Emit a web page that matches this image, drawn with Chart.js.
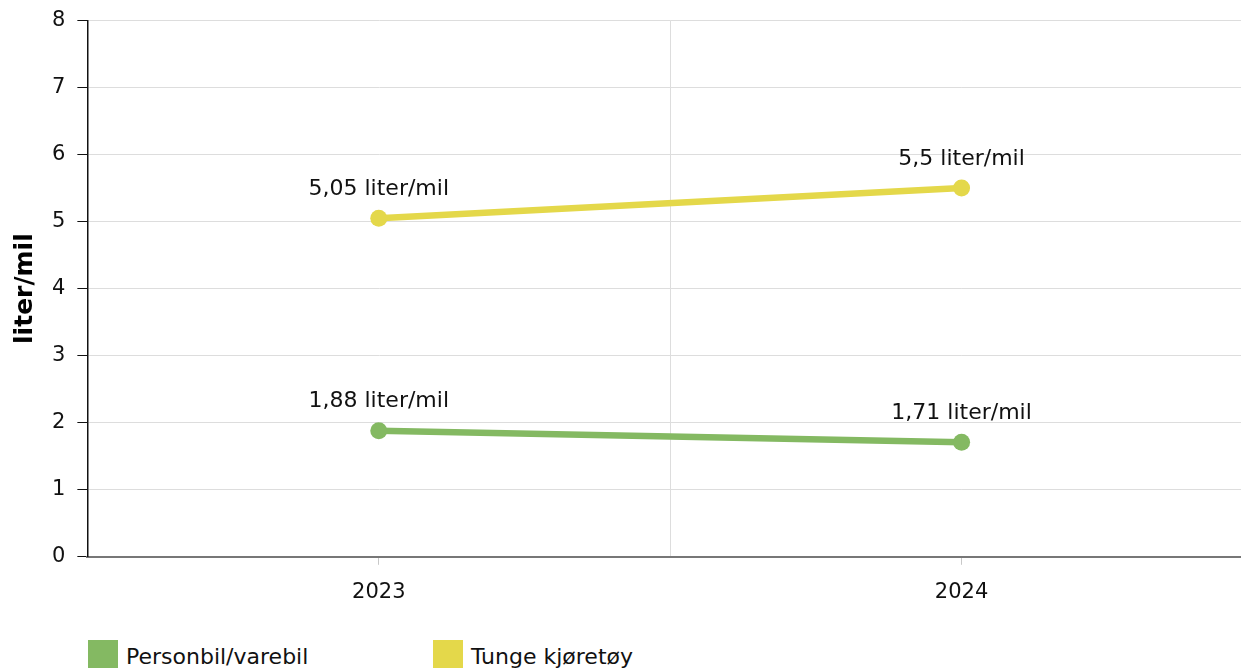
<!DOCTYPE html>
<html>
<head>
<meta charset="utf-8">
<script src="https://cdn.jsdelivr.net/npm/chart.js@4/dist/chart.umd.min.js"></script>
<style>
  html, body { margin: 0; padding: 0; background: #fff; overflow: hidden; width: 1241px; height: 668px; }
  #c { position: absolute; left: 0; top: 0; }
  .legend { position: absolute; top: 640px; font-family: "DejaVu Sans", Verdana, sans-serif; font-size: 22px; color: #111; display: flex; align-items: flex-start; white-space: nowrap; }
  .legend .box { width: 30px; height: 30px; margin-right: 8px; }
  .legend span { line-height: 26px; margin-top: 4px; }
</style>
</head>
<body>
<canvas id="c" width="1268" height="620"></canvas>
<div class="legend" style="left:88px"><div class="box" style="background:#84b962"></div><span id="l0"></span></div>
<div class="legend" style="left:433px"><div class="box" style="background:#e4d84a"></div><span id="l1"></span></div>
<script>
const years = [2023, 2024];
const seriesNames = ["Personbil/varebil", "Tunge kjøretøy"];
const personbil = [1.88, 1.71];
const tunge = [5.05, 5.5];
const yTicks = [0, 1, 2, 3, 4, 5, 6, 7, 8];
const unit = "liter/mil";
const colors = ["#84b962", "#e4d84a"];

document.getElementById('l0').textContent = seriesNames[0];
document.getElementById('l1').textContent = seriesNames[1];

const FONT = "'DejaVu Sans', Verdana, sans-serif";

const labelPlugin = {
  id: 'pointLabels',
  afterDatasetsDraw(chart) {
    const ctx = chart.ctx;
    ctx.save();
    ctx.font = "22px " + FONT;
    ctx.fillStyle = "#111";
    ctx.textAlign = "center";
    ctx.textBaseline = "middle";
    chart.data.datasets.forEach((ds, i) => {
      const meta = chart.getDatasetMeta(i);
      meta.data.forEach((pt, j) => {
        const v = ds.data[j].y;
        const txt = String(v).replace('.', ',') + " " + unit;
        ctx.fillText(txt, pt.x, pt.y - 29);
      });
    });
    ctx.restore();
  }
};

const mk = arr => years.map((y, i) => ({ x: y, y: arr[i] }));

new Chart(document.getElementById('c'), {
  type: 'line',
  data: {
    datasets: [
      { label: seriesNames[0], data: mk(personbil), borderColor: colors[0], backgroundColor: colors[0],
        borderWidth: 6.5, pointRadius: 8.5, pointHoverRadius: 8.5, pointBorderWidth: 0 },
      { label: seriesNames[1], data: mk(tunge), borderColor: colors[1], backgroundColor: colors[1],
        borderWidth: 6.5, pointRadius: 8.5, pointHoverRadius: 8.5, pointBorderWidth: 0 }
    ]
  },
  options: {
    responsive: false,
    animation: false,
    events: [],
    layout: { padding: { top: 3, left: 10, right: 0, bottom: 0 } },
    plugins: { legend: { display: false }, tooltip: { enabled: false } },
    scales: {
      x: {
        type: 'linear',
        min: years[0] - 0.5,
        max: years[years.length - 1] + 0.5,
        afterBuildTicks(scale) {
          const t = [];
          for (let v = years[0] - 0.5; v <= years[years.length - 1] + 0.5 + 1e-9; v += 0.5) t.push({ value: v });
          scale.ticks = t;
        },
        ticks: {
          autoSkip: false,
          maxRotation: 0,
          padding: 15,
          color: "#111",
          font: { family: FONT, size: 21 },
          callback: v => Number.isInteger(v) ? String(v) : ''
        },
        grid: {
          color: c => (c.tick && !Number.isInteger(c.tick.value) && c.index !== 0) ? '#dddddd' : 'rgba(0,0,0,0)',
          tickColor: c => (c.tick && Number.isInteger(c.tick.value)) ? '#c8c8c8' : 'rgba(0,0,0,0)',
          tickLength: 8,
          lineWidth: 1
        },
        border: { display: true, color: '#777777', width: 2 }
      },
      y: {
        min: 0,
        max: 8,
        afterBuildTicks(scale) { scale.ticks = yTicks.map(v => ({ value: v })); },
        ticks: {
          padding: 12,
          color: "#111",
          font: { family: FONT, size: 21, lineHeight: 0.8 }
        },
        grid: {
          color: c => c.index === 0 ? 'rgba(0,0,0,0)' : '#dddddd',
          tickColor: '#111',
          tickLength: 10,
          lineWidth: 1
        },
        border: { display: true, color: '#111', width: 1.5 },
        title: {
          display: true,
          text: unit,
          color: '#000',
          font: { family: FONT, size: 25, weight: 'bold' },
          padding: { top: 0, bottom: 0 }
        }
      }
    }
  },
  plugins: [labelPlugin]
});
</script>
</body>
</html>
